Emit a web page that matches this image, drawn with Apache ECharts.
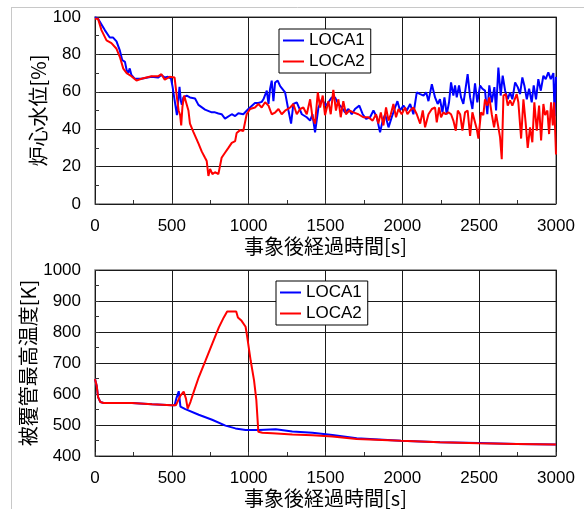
<!DOCTYPE html>
<html>
<head>
<meta charset="utf-8">
<script src="https://cdn.jsdelivr.net/npm/echarts@6/dist/echarts.min.js"></script>
<style>
  html, body { margin: 0; padding: 0; background: #fff; }
  #chart { width: 584px; height: 509px; }
</style>
</head>
<body>
<div id="chart"></div>
<script>
// Core water level [%] vs. time after event [s]
const levelTimeLOCA1 = [0,20,64,96,118,140,162,177,195,206,216,226,237,258,302,367,410,432,454,475,495,505,518,533,544,550,558,565,575,597,618,651,673,716,760,781,803,824,846,857,890,912,933,965,998,1041,1063,1085,1096,1118,1129,1139,1150,1161,1172,1189,1205,1237,1259,1276,1291,1313,1346,1378,1400,1415,1432,1454,1476,1486,1503,1519,1541,1562,1584,1606,1627,1649,1671,1692,1720,1742,1764,1790,1812,1834,1855,1872,1888,1910,1931,1953,1968,1985,2007,2029,2051,2072,2094,2116,2138,2155,2170,2192,2213,2230,2245,2261,2274,2289,2304,2317,2332,2343,2354,2369,2382,2397,2408,2425,2441,2456,2473,2488,2506,2521,2538,2553,2566,2582,2599,2610,2625,2640,2653,2669,2686,2701,2716,2734,2751,2766,2781,2794,2810,2825,2842,2855,2870,2885,2901,2918,2933,2950,2966,2983,2991,3000];
const levelLOCA1 = [100,99,93,89,89,87,82,77,76,71.5,70,72.5,69,67,67,68,67.6,69,67.6,68,67,62.6,55.5,47.5,47.5,62.6,55.5,53,57,58,57,56.4,53,50.5,49,49,48.4,48,45.7,46,48,47,48.5,48,50.8,54,54,54.6,56,60.6,53.5,61.4,66,55,65,66,63,59.7,50,43,53.5,54.4,48,46.4,44.6,48,38.3,51.6,56,57,52.6,54.4,57,57,53.5,51.6,49,50.8,48,50.8,52.6,48,45.5,46.4,50,46.4,38.3,44.6,48,41,46.4,51.6,55,50,52.6,50,53.5,48,59.7,58.8,58,59.7,55,64,57,53.5,56,49,57,48,54.4,65,58,63.4,57,63.4,57,53.5,59.7,69.5,57,50.8,64.5,54.4,63.4,61.6,60.6,48,63.4,54.4,62.5,50,73,58,68.6,60.6,56,59.7,56,65,62.5,58.8,67.7,63.4,56,61.6,54.4,63.4,56,66.8,60.6,68.6,66.8,70.4,66.8,70,47,68];

const levelTimeLOCA2 = [0,20,42,75,107,140,162,184,206,237,270,302,367,410,432,454,486,518,533,544,554,561,569,580,591,608,618,640,673,695,716,727,738,749,764,781,803,814,824,846,868,890,912,922,944,965,976,987,1009,1041,1063,1085,1107,1129,1150,1172,1194,1215,1237,1270,1291,1313,1335,1356,1378,1400,1415,1432,1450,1465,1482,1497,1519,1534,1551,1568,1584,1599,1616,1633,1655,1681,1714,1746,1779,1807,1829,1844,1860,1877,1894,1910,1925,1942,1959,1975,1996,2018,2033,2051,2072,2094,2116,2133,2148,2170,2192,2213,2224,2239,2252,2267,2282,2300,2317,2332,2348,2361,2376,2391,2408,2425,2441,2456,2469,2484,2495,2512,2527,2538,2553,2566,2582,2597,2610,2625,2636,2647,2658,2673,2686,2701,2716,2729,2744,2755,2773,2788,2803,2816,2831,2846,2859,2875,2890,2903,2918,2929,2944,2955,2968,2979,2988,3000];
const levelLOCA2 = [99,99,93,87.5,86,83,78.6,72.4,70,68.3,66,67,68.3,68.3,69.4,66.5,68,67.6,57,50,47.5,42,52,58,57,50,43,38.6,32.4,28,24.7,23,15,18.7,16,17,16,17,24.7,27.4,30,32.7,33.6,38,39.5,39,40,48,50.8,51.6,53.5,51.6,54.4,52.6,48,48.9,50.8,48,49.9,51.6,53.5,48,50.8,51.6,48,56,46.4,43,59.7,51.6,58,47.5,55,48,61,50,56,46.4,55,48,50,49,48,46.4,46.4,44.6,48,43,49,42,51.6,44.6,48,53.5,46.4,50.8,48,51.6,48,50,51.6,48,43,50,41,48,50.8,51.6,43.6,51.6,46.4,49,48,49,48,44.6,39.2,50,48,39.2,49,50,36.4,49,50,40.3,35,49,47.5,56,52.6,57,48,41,48,41,35.6,24,58,58.8,52.6,55.4,52.6,53.5,58.8,54.4,35,56,43,30,41,33,54.4,39.2,52.6,34,53.5,47.5,50,37.4,54.4,42,54.4,26.5];

// Peak cladding temperature [K] vs. time after event [s]
const cladTimeLOCA1 = [0,11,20,35,56,154,241,371,501,518,529,545,556,588,675,762,849,914,980,1067,1176,1284,1415,1545,1703,1991,2245,2496,2744,3000];
const cladLOCA1 = [648,627,590,574,571,571,571,567,564,564,585,609,559,551,533,517,498,489,484,484,486,479,475,468,457,449,444,442,439,437];

const cladTimeLOCA2 = [0,11,20,35,56,154,241,371,501,527,540,556,577,592,603,621,642,675,719,762,806,838,860,893,919,930,954,980,991,1013,1035,1050,1063,1089,1154,1284,1415,1545,1703,1991,2245,2496,2744,3000];
const cladLOCA2 = [648,627,590,574,571,571,571,567,564,564,568,595,608,585,553,574,606,654,708,761,815,847,866,866,866,847,836,817,783,708,644,580,478,475,473,469,467,463,455,449,444,441,439,437];

const seriesNames = ['LOCA1', 'LOCA2'];
const xTicks = { min: 0, max: 3000, step: 500 };
const levelTicks = { min: 0, max: 100, step: 20 };
const cladTicks = { min: 400, max: 1000, step: 100 };
const xTitle = '事象後経過時間[s]';
const levelTitle = '炉心水位[%]';
const cladTitle = '被覆管最高温度[K]';

const zip = (xs, ys) => xs.map((x, i) => [x, ys[i]]);

const numFont = { fontFamily: 'Liberation Sans, Arial, sans-serif', fontSize: 17, color: '#000' };
const cjkFont = { fontFamily: 'Noto Sans CJK JP, sans-serif', fontSize: 20, color: '#000' };
const plainNumber = v => String(v);

function xAxis(gridIndex) {
  return {
    type: 'value', gridIndex,
    min: xTicks.min, max: xTicks.max, interval: xTicks.step,
    name: xTitle, nameLocation: 'middle', nameGap: 32, nameMoveOverlap: false,
    nameTextStyle: cjkFont,
    axisLine: { show: false },
    axisTick: { show: true, inside: true, length: 4, lineStyle: { color: '#333' } },
    minorTick: { show: true, splitNumber: 2, length: 4, lineStyle: { color: '#333', width: 1 } },
    splitLine: { show: true, lineStyle: { color: '#1a1a1a', width: 1 } },
    axisLabel: Object.assign({ margin: 14, formatter: plainNumber }, numFont)
  };
}
function yAxis(gridIndex, ticks, title, gap) {
  return {
    type: 'value', gridIndex,
    min: ticks.min, max: ticks.max, interval: ticks.step,
    name: title, nameLocation: 'middle', nameGap: gap, nameMoveOverlap: false,
    nameTextStyle: cjkFont,
    axisLine: { show: false },
    axisTick: { show: true, inside: true, length: 4, lineStyle: { color: '#333' } },
    minorTick: { show: true, splitNumber: 2, length: 4, lineStyle: { color: '#333', width: 1 } },
    splitLine: { show: true, lineStyle: { color: '#1a1a1a', width: 1 } },
    axisLabel: Object.assign({ margin: 14, formatter: plainNumber }, numFont)
  };
}
function legend(left, top) {
  return {
    data: seriesNames.map(n => ({ name: n })),
    orient: 'vertical', left, top,
    icon: 'rect', itemWidth: 21, itemHeight: 2, itemGap: 4,
    padding: [3, 6, 3, 4],
    backgroundColor: '#fff', borderColor: '#000', borderWidth: 1, borderRadius: 0,
    textStyle: numFont,
    selectedMode: false
  };
}
function line(name, data, color, idx) {
  return {
    name, type: 'line', data, xAxisIndex: idx, yAxisIndex: idx,
    showSymbol: false, symbol: 'none', smooth: false,
    lineStyle: { color, width: 2 }, itemStyle: { color },
    animation: false
  };
}

const chart = echarts.init(document.getElementById('chart'), null, { renderer: 'canvas' });
chart.setOption({
  animation: false,
  backgroundColor: '#fff',
  grid: [
    { left: 95, top: 17, width: 461, height: 187, show: true, borderColor: '#808080', borderWidth: 1.5, backgroundColor: 'transparent' },
    { left: 95, top: 270, width: 461, height: 187, show: true, borderColor: '#808080', borderWidth: 1.5, backgroundColor: 'transparent' }
  ],
  xAxis: [xAxis(0), xAxis(1)],
  yAxis: [yAxis(0, levelTicks, levelTitle, 47), yAxis(1, cladTicks, cladTitle, 57)],
  legend: [legend(279, 29), legend(276, 281)],
  series: [
    line('LOCA1', zip(levelTimeLOCA1, levelLOCA1), '#0000ff', 0),
    line('LOCA2', zip(levelTimeLOCA2, levelLOCA2), '#ff0000', 0),
    line('LOCA1', zip(cladTimeLOCA1, cladLOCA1), '#0000ff', 1),
    line('LOCA2', zip(cladTimeLOCA2, cladLOCA2), '#ff0000', 1)
  ],
  graphic: [
    { type: 'line', shape: { x1: 11, y1: 7.5, x2: 584, y2: 7.5 }, style: { stroke: '#c8c8c8', lineWidth: 1 }, silent: true },
    { type: 'line', shape: { x1: 11.5, y1: 7, x2: 11.5, y2: 509 }, style: { stroke: '#c8c8c8', lineWidth: 1 }, silent: true }
  ]
});
</script>
</body>
</html>
